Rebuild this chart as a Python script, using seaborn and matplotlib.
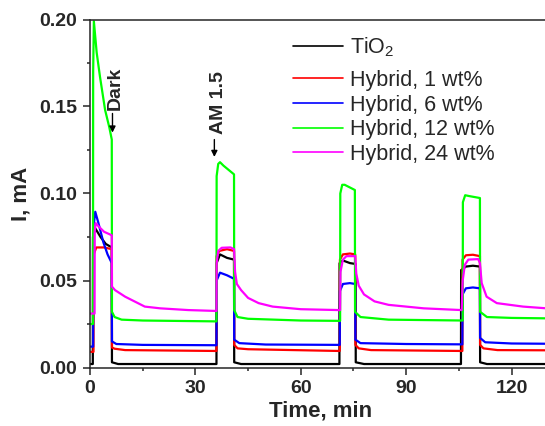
import numpy as np
import pandas as pd
import matplotlib
matplotlib.use('Agg')
import matplotlib.pyplot as plt
from matplotlib.ticker import MultipleLocator, FormatStrFormatter
import seaborn as sns

# photocurrent traces (time in min, current in mA)
tio2_t = [0, 0.8, 0.85, 1.5, 3, 4.5, 6.2, 6.25, 8, 36.0, 36.05, 37, 39, 41.0, 41.05, 43,
          71.0, 71.05, 72, 74, 75.6, 75.65, 78, 105.6, 105.65, 107, 109, 111.0, 111.05, 113, 140]
tio2_i = [0.002, 0.002, 0.075, 0.080, 0.075, 0.071, 0.069, 0.003, 0.002, 0.002, 0.060, 0.065, 0.063, 0.062, 0.003, 0.002,
          0.002, 0.060, 0.0615, 0.060, 0.0595, 0.003, 0.002, 0.002, 0.056, 0.058, 0.0585, 0.058, 0.003, 0.002, 0.002]

h1_t = [0, 1.0, 1.05, 1.8, 4, 6.2, 6.25, 7, 10, 36.0, 36.05, 36.8, 39, 41.0, 41.05, 42, 45,
        71.1, 71.15, 72, 74, 75.5, 75.55, 76.5, 80, 106.0, 106.05, 107, 109, 111.0, 111.05, 112, 116, 140]
h1_i = [0.009, 0.009, 0.065, 0.069, 0.069, 0.068, 0.0115, 0.0108, 0.010, 0.0095, 0.064, 0.067, 0.068, 0.067, 0.013, 0.011, 0.0105,
        0.0095, 0.062, 0.065, 0.0655, 0.065, 0.013, 0.011, 0.010, 0.0095, 0.062, 0.0645, 0.0648, 0.064, 0.013, 0.011, 0.010, 0.0098]

h6_t = [0, 0.9, 0.95, 1.5, 2.4, 3.8, 5, 6.2, 6.25, 7.5, 15, 36.0, 36.05, 37, 39, 41.0, 41.05, 42.5, 50,
        71.1, 71.15, 72, 74, 75.5, 75.55, 77, 90, 106.0, 106.05, 107, 109, 111.0, 111.05, 112.5, 120, 140]
h6_i = [0.012, 0.012, 0.080, 0.0895, 0.083, 0.072, 0.065, 0.060, 0.015, 0.0135, 0.013, 0.0128, 0.050, 0.0545, 0.053, 0.051, 0.016, 0.014, 0.0132,
        0.013, 0.044, 0.048, 0.0485, 0.048, 0.016, 0.014, 0.0135, 0.0133, 0.042, 0.0455, 0.046, 0.0455, 0.017, 0.0145, 0.0138, 0.0135]

h12_t = [0, 0.85, 0.9, 1.1, 1.9, 2.85, 4.3, 5.5, 6.2, 6.25, 7, 9, 15, 36.0, 36.05, 36.5, 37, 38, 41.0, 41.05, 42, 45, 60,
         71.2, 71.25, 71.8, 72.5, 75.4, 75.45, 77, 85, 106.1, 106.15, 106.8, 108, 111.0, 111.05, 113, 120, 140]
h12_i = [0.025, 0.025, 0.170, 0.199, 0.181, 0.167, 0.148, 0.138, 0.131, 0.032, 0.029, 0.0275, 0.027, 0.0265, 0.110, 0.117, 0.118, 0.116, 0.111, 0.033, 0.029, 0.028, 0.027,
         0.0268, 0.100, 0.105, 0.105, 0.102, 0.032, 0.029, 0.0275, 0.027, 0.095, 0.099, 0.0985, 0.0974, 0.032, 0.029, 0.0285, 0.028]

h24_t = [0, 1.3, 1.35, 1.6, 2.5, 4, 6.2, 6.25, 7.1, 10, 15.6, 20, 28, 36.0, 36.05, 36.5, 37.5, 40, 41.0, 41.3, 41.8, 43, 45, 48, 52, 60, 71.0,
         71.2, 71.3, 72, 73, 75.5, 75.8, 76.5, 78, 81, 85, 95, 105.8, 106.1, 106.7, 107.7, 110.5, 111.0, 111.5, 112.9, 115.8, 123.3, 130, 140]
h24_i = [0.031, 0.031, 0.078, 0.083, 0.081, 0.078, 0.076, 0.0465, 0.0445, 0.0407, 0.035, 0.034, 0.033, 0.0325, 0.060, 0.067, 0.0688, 0.069, 0.068, 0.055, 0.048, 0.0445, 0.040, 0.037, 0.035, 0.0335, 0.033,
         0.033, 0.055, 0.062, 0.064, 0.064, 0.054, 0.047, 0.042, 0.038, 0.036, 0.034, 0.033, 0.050, 0.059, 0.062, 0.0623, 0.060, 0.0485, 0.0407, 0.037, 0.035, 0.034, 0.0335]

labels = ['TiO$_2$', 'Hybrid, 1 wt%', 'Hybrid, 6 wt%', 'Hybrid, 12 wt%', 'Hybrid, 24 wt%']
colors = ['#000000', '#ff0000', '#0000ff', '#00ff00', '#ff00ff']

frames = []
for lab, t, i in zip(labels, [tio2_t, h1_t, h6_t, h12_t, h24_t], [tio2_i, h1_i, h6_i, h12_i, h24_i]):
    frames.append(pd.DataFrame({'time': t, 'current': i, 'sample': lab}))
df = pd.concat(frames, ignore_index=True)

sns.set_style('ticks')
plt.rcParams['font.family'] = ['Liberation Sans', 'DejaVu Sans']
plt.rcParams['mathtext.fontset'] = 'custom'
plt.rcParams['mathtext.rm'] = 'Liberation Sans'

fig = plt.figure(figsize=(5.45, 4.26), dpi=100)
# axes runs past the right edge, like the cropped original
ax = fig.add_axes([90 / 545, 58.5 / 426, 491.8 / 545, 348 / 426])

sns.lineplot(data=df, x='time', y='current', hue='sample', hue_order=labels,
             palette=dict(zip(labels, colors)), sort=False, estimator=None,
             linewidth=1.6, legend=False, ax=ax)

ax.set_xlim(0, 140)
ax.set_ylim(0, 0.2)
ax.xaxis.set_major_locator(MultipleLocator(30))
ax.xaxis.set_minor_locator(MultipleLocator(15))
ax.yaxis.set_major_locator(MultipleLocator(0.05))
ax.yaxis.set_minor_locator(MultipleLocator(0.025))
ax.yaxis.set_major_formatter(FormatStrFormatter('%.2f'))
ax.tick_params(which='major', length=5, width=1.1, labelsize=14, pad=4)
ax.tick_params(which='minor', length=2.5, width=1.1)
for lab in ax.get_xticklabels() + ax.get_yticklabels():
    lab.set_fontweight('bold')
for s in ax.spines.values():
    s.set_linewidth(1.1)
ax.spines['right'].set_visible(False)

ax.set_xlabel('Time, min', fontsize=16, fontweight='bold')
ax.xaxis.set_label_coords(0.468, -0.095)
ax.set_ylabel('I, mA', fontsize=16, fontweight='bold', labelpad=6)

# light on / off markers
ax.text(7.3, 0.148, 'Dark', rotation=90, ha='center', va='bottom', fontsize=14, fontweight='bold')
ax.annotate('', xy=(6.4, 0.135), xytext=(6.4, 0.146),
            arrowprops=dict(arrowstyle='-|>', color='black', lw=1, mutation_scale=9, shrinkA=0, shrinkB=0))
ax.text(36.5, 0.134, 'AM 1.5', rotation=90, ha='center', va='bottom', fontsize=14, fontweight='bold')
ax.annotate('', xy=(35.4, 0.121), xytext=(35.4, 0.131),
            arrowprops=dict(arrowstyle='-|>', color='black', lw=1, mutation_scale=9, shrinkA=0, shrinkB=0))

# legend: TiO2 row sits apart because of its subscript
handles = [plt.Line2D([], [], color=c, lw=1.2) for c in colors]
leg_kw = dict(frameon=False, fontsize=15.5, handlelength=2.33, handletextpad=0.33,
              borderaxespad=0, borderpad=0, bbox_transform=fig.transFigure)
leg1 = ax.legend(handles[:1], labels[:1], loc='center left',
                 bbox_to_anchor=(293 / 545, 1 - 47 / 426), **leg_kw)
ax.add_artist(leg1)
ax.legend(handles[1:], labels[1:], loc='center left', labelspacing=0.17,
          bbox_to_anchor=(293 / 545, 1 - 117.5 / 426), **leg_kw)

fig.savefig('out.png', dpi=100)
